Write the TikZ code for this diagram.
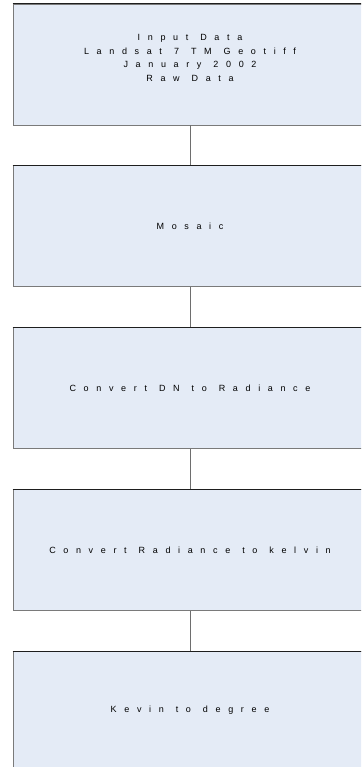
\documentclass[tikz,border=0pt]{standalone}
\usepackage{fontspec}
\usepackage{tikz}
\usetikzlibrary{positioning}
\newfontfamily\boxfont{Liberation Sans}[LetterSpace=85]
\newcommand\boxtext{\boxfont\fontsize{9}{13.5}\selectfont\fontdimen2\font=12pt\relax}
\definecolor{boxfill}{HTML}{E4EBF6}
\definecolor{boxedge}{HTML}{7A7A7A}
\definecolor{boxtop}{HTML}{1E1E1E}
\definecolor{linkgray}{HTML}{6E6E6E}

\tikzset{
  stepbox/.style={draw=boxedge, line width=0.9pt, fill=boxfill,
    minimum width=354pt, minimum height=121pt, inner sep=0pt,
    align=center, font=\boxtext},
  topedge/.style={draw=boxtop, line width=0.9pt},
  link/.style={draw=linkgray, line width=0.9pt}
}

\begin{document}
\begin{tikzpicture}[x=1pt,y=-1pt]
    % page frame
    \useasboundingbox (0,0) rectangle (361,767);
    \clip (0,0) rectangle (361,767);

    % Processing steps
    \node[stepbox] (input) at (190,64.5) {Input Data\\Landsat 7 TM Geotiff\\January 2002\\Raw Data\\ };
    \node[stepbox, below=40pt of input] (mosaic) {Mosaic};
    \node[stepbox, below=40pt of mosaic] (radiance) {Convert DN to Radiance};
    \node[stepbox, below=40pt of radiance] (kelvin) {Convert Radiance to kelvin};
    \node[stepbox, below=40pt of kelvin] (degree) {\raisebox{6.5pt}{Kevin to degree}};

    % Dark top edges
    \foreach \n in {input,mosaic,radiance,kelvin,degree}
        \draw[topedge] (\n.north west) -- (\n.north east);

    % Connectors
    \draw[link] (input.south) -- (mosaic.north);
    \draw[link] (mosaic.south) -- (radiance.north);
    \draw[link] (radiance.south) -- (kelvin.north);
    \draw[link] (kelvin.south) -- (degree.north);
\end{tikzpicture}
\end{document}
